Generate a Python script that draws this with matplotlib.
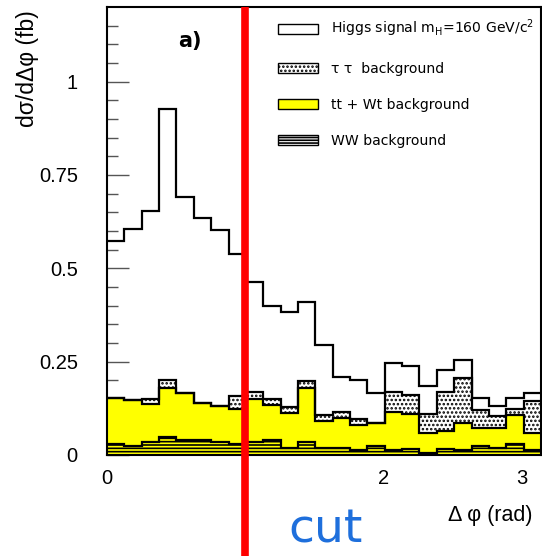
import numpy as np
import matplotlib
matplotlib.use("Agg")
import matplotlib.pyplot as plt
from matplotlib.patches import Patch

# binned delta-phi distribution, 25 bins from 0 to pi (values in fb)
n_bins = 25
ww_bkg = [0.029, 0.025, 0.035, 0.049, 0.041, 0.041, 0.034, 0.030, 0.036, 0.041,
          0.020, 0.035, 0.018, 0.018, 0.013, 0.023, 0.013, 0.017, 0.005, 0.017,
          0.012, 0.023, 0.020, 0.030, 0.012]
tt_wt_bkg = [0.123, 0.122, 0.102, 0.131, 0.126, 0.099, 0.098, 0.092, 0.113, 0.093,
             0.093, 0.145, 0.074, 0.080, 0.066, 0.062, 0.103, 0.092, 0.053, 0.048,
             0.074, 0.050, 0.053, 0.077, 0.046]
tautau_bkg = [0.000, 0.000, 0.013, 0.020, 0.000, 0.000, 0.000, 0.037, 0.019, 0.016,
              0.015, 0.018, 0.014, 0.017, 0.017, 0.000, 0.053, 0.052, 0.051, 0.103,
              0.121, 0.047, 0.032, 0.015, 0.086]
higgs_sig = [0.421, 0.457, 0.503, 0.726, 0.523, 0.495, 0.470, 0.378, 0.294, 0.250,
             0.254, 0.212, 0.188, 0.093, 0.105, 0.080, 0.077, 0.078, 0.077, 0.060,
             0.047, 0.033, 0.027, 0.031, 0.022]

x_ticks = [0, 1, 2, 3]
x_tick_labels = ['0', '', '2', '3']   # the "1" is hidden behind the cut line
y_ticks = [0, 0.25, 0.5, 0.75, 1]
y_tick_labels = ['0', '0.25', '0.5', '0.75', '1']
cut_value = 1.0

edges = np.linspace(0, np.pi, n_bins + 1)
ww_top = np.array(ww_bkg)
tt_top = ww_top + np.array(tt_wt_bkg)
tau_top = tt_top + np.array(tautau_bkg)
total = tau_top + np.array(higgs_sig)

plt.rcParams['font.family'] = ['Liberation Sans', 'DejaVu Sans']
plt.rcParams['hatch.linewidth'] = 1.2

fig = plt.figure(figsize=(5.42, 5.56), dpi=100)
ax = fig.add_axes([0.1974, 0.1817, 0.8007, 0.8058])

# stacked histogram: tau-tau (dots), tt+Wt (yellow), WW (lines)
ax.stairs(tau_top, edges, baseline=tt_top, fill=True, facecolor='white',
          edgecolor='black', hatch='....', linewidth=0, zorder=1)
ax.stairs(tau_top, edges, baseline=None, color='black', linewidth=1.6, zorder=2)
ax.stairs(tt_top, edges, baseline=0, fill=True, facecolor='yellow',
          edgecolor='none', zorder=1)
ax.stairs(tt_top, edges, baseline=None, color='black', linewidth=1.6, zorder=2)
ax.stairs(ww_top, edges, baseline=0, fill=True, facecolor='yellow',
          edgecolor='black', hatch='-----', linewidth=0, zorder=1)
ax.stairs(ww_top, edges, baseline=None, color='black', linewidth=1.6, zorder=2)
# signal on top of the backgrounds, outline only
ax.stairs(total, edges, baseline=None, color='black', linewidth=1.6, zorder=2)

ax.set_xlim(0, np.pi)
ax.set_ylim(0, 1.2)
ax.set_axisbelow(True)
ax.set_xticks(x_ticks)
ax.set_xticklabels(x_tick_labels)
ax.set_yticks(y_ticks)
ax.set_yticklabels(y_tick_labels)
ax.set_yticks(np.arange(0, 1.2, 0.05), minor=True)
ax.tick_params(axis='y', which='major', direction='in', length=16, width=1,
               color='#555555', labelsize=14.5, pad=21, right=False)
ax.tick_params(axis='y', which='minor', direction='in', length=8, width=1,
               color='#555555', right=False)
ax.tick_params(axis='x', which='both', length=0, labelsize=14.5, pad=10)
for sp in ax.spines.values():
    sp.set_linewidth(1.5)
    sp.set_zorder(3)

fig.text(0.05, 0.876, 'dσ/dΔφ (fb)', rotation=90, ha='center', va='center',
         fontsize=16.5)
fig.text(0.905, 0.073, 'Δ φ (rad)', ha='center', va='center', fontsize=15.5)
ax.text(0.19, 0.925, 'a)', transform=ax.transAxes, ha='center', va='center',
        fontsize=15, fontweight='bold', family='DejaVu Sans')

handles = [
    Patch(facecolor='white', edgecolor='black', linewidth=1),
    Patch(facecolor='white', edgecolor='black', hatch='....', linewidth=1),
    Patch(facecolor='yellow', edgecolor='black', linewidth=1),
    Patch(facecolor='white', edgecolor='black', hatch='------', linewidth=1),
]
labels = [r'Higgs signal m$_{\rm H}$=160 GeV/c$^{2}$',
          'τ τ  background', 'tt + Wt background', 'WW background']
ax.legend(handles, labels, loc='upper left', bbox_to_anchor=(0.385, 0.985),
          frameon=False, prop={'family': 'DejaVu Sans', 'size': 10.1},
          handlelength=2.8, handleheight=0.72, handletextpad=0.95,
          labelspacing=1.58, borderpad=0.3, borderaxespad=0)

# the cut line and its label
ax.plot([cut_value, cut_value], [-0.23, 1.0], transform=ax.get_xaxis_transform(),
        color='red', linewidth=5.5, solid_capstyle='butt', clip_on=False, zorder=10)
fig.text(0.6, 0.047, 'cut', color='#1e6fdc', fontsize=34, ha='center', va='center',
         family='DejaVu Sans')

fig.savefig('out.png', dpi=100)
